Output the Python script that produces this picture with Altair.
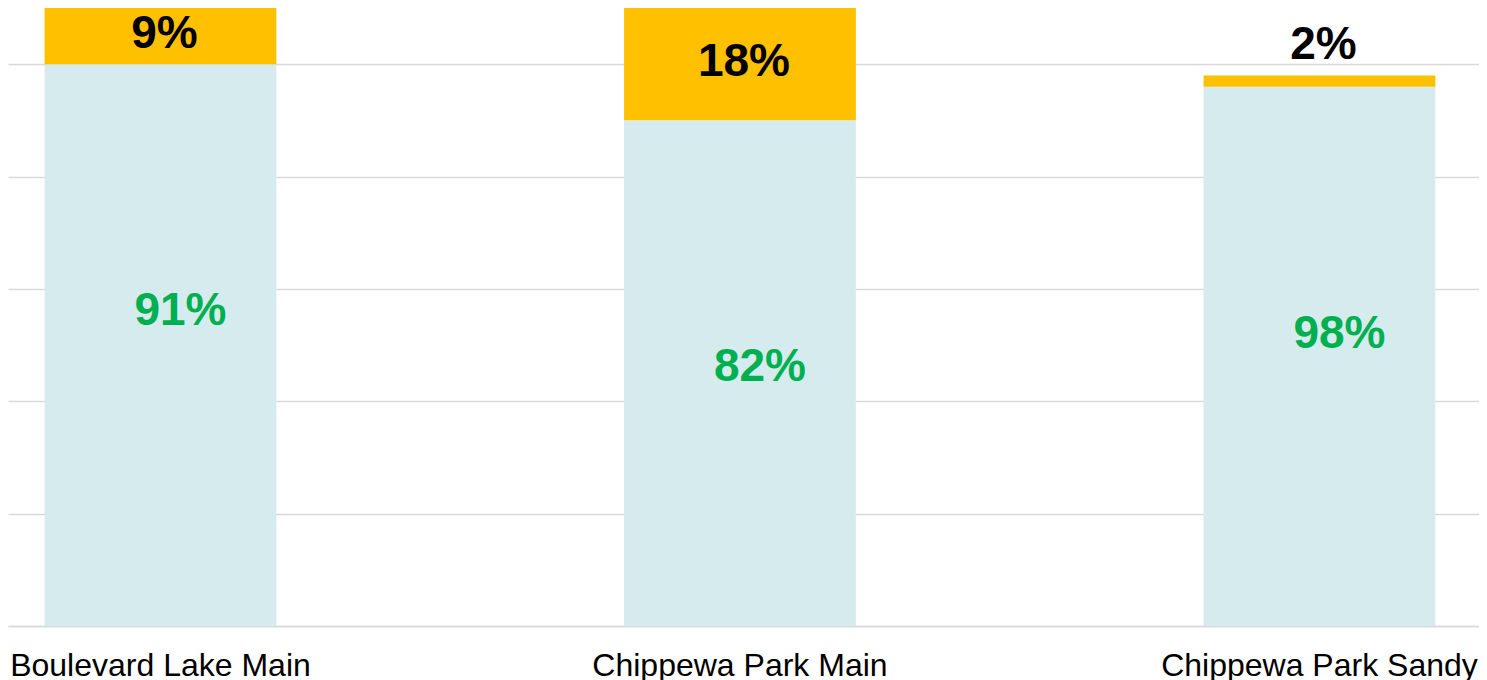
import altair as alt
import pandas as pd

categories = ["Boulevard Lake Main", "Chippewa Park Main", "Chippewa Park Sandy"]
safe_counts = [100, 90, 96]
unsafe_counts = [10, 20, 2]
grid_values = [0, 20, 40, 60, 80, 100]

rows = []
for cat, s, u in zip(categories, safe_counts, unsafe_counts):
    total = s + u
    rows.append(dict(category=cat, series="safe", start=0, end=s,
                     pct=f"{round(100 * s / total)}%", label_pos=s))
    rows.append(dict(category=cat, series="unsafe", start=s, end=total,
                     pct=f"{round(100 * u / total)}%",
                     label_pos=(s + u / 2) if u >= 5 else total + 5))
df = pd.DataFrame(rows)

FONT = "Liberation Sans"

x_enc = alt.X(
    "category:N", sort=categories, title=None,
    scale=alt.Scale(paddingInner=0.6, paddingOuter=0.0692, align=0.456),
    axis=alt.Axis(labelAngle=0, labelFont=FONT, labelFontSize=32,
                  labelColor="#000000", labelPadding=24, ticks=False,
                  tickSize=0, domainColor="#D9D9D9", domainWidth=1.5,
                  labelLimit=500),
)
y_scale = alt.Scale(domain=[0, 110], nice=False, zero=True)

bars = alt.Chart(df).mark_bar().encode(
    x=x_enc,
    y=alt.Y("start:Q", scale=y_scale, title=None,
            axis=alt.Axis(values=grid_values, labels=False, ticks=False,
                          domain=False, grid=True, gridColor="#D9D9D9",
                          gridWidth=1.5)),
    y2="end:Q",
    color=alt.Color("series:N",
                    scale=alt.Scale(domain=["safe", "unsafe"],
                                    range=["#D6EBEE", "#FFC000"]),
                    legend=None),
)

# green labels sit a fixed distance below the top of the light segment
safe_text = alt.Chart(df).transform_filter(alt.datum.series == "safe").mark_text(
    font=FONT, fontSize=46, fontWeight="bold", color="#00B050", dx=20, dy=247
).encode(
    x=alt.X("category:N", sort=categories),
    y=alt.Y("label_pos:Q", scale=y_scale),
    text="pct:N",
)

unsafe_text = alt.Chart(df).transform_filter(alt.datum.series == "unsafe").mark_text(
    font=FONT, fontSize=46, fontWeight="bold", color="#000000", dx=4, dy=-2
).encode(
    x=alt.X("category:N", sort=categories),
    y=alt.Y("label_pos:Q", scale=y_scale),
    text="pct:N",
)

chart = alt.layer(bars, safe_text, unsafe_text).properties(
    width=1471, height=618,
    autosize=alt.AutoSizeParams(type="none"),
    padding={"left": 0, "right": 0, "top": 0, "bottom": 54},
    background="white",
).configure_view(stroke=None)

chart.save("out.html", embed_options={"renderer": "svg", "actions": False})
